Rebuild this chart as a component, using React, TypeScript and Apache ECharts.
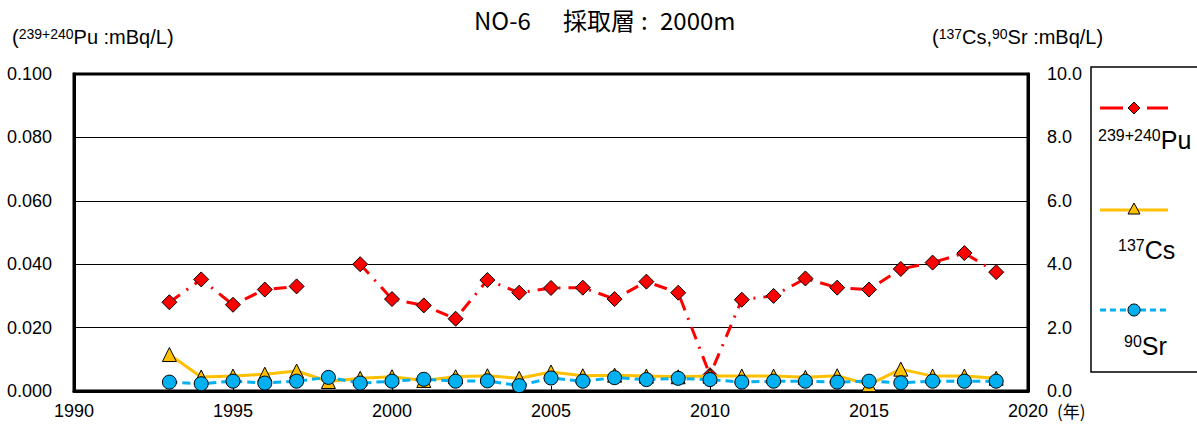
import React, { useEffect, useRef } from "react";
import * as echarts from "echarts";

const years = [1993,1994,1995,1996,1997,1998,1999,2000,2001,2002,2003,2004,2005,2006,2007,2008,2009,2010,2011,2012,2013,2014,2015,2016,2017,2018,2019];
const pu = [0.028,0.0352,0.0272,0.032,0.033,null,0.040,0.029,0.027,0.0228,0.035,0.031,0.0325,0.0326,0.029,0.0345,0.031,0.005,0.0288,0.030,0.0355,0.0326,0.032,0.0385,0.0405,0.0435,0.0375];
const cs = [1.15,0.44,0.47,0.53,0.63,0.3,0.4,0.45,0.33,0.45,0.48,0.4,0.6,0.48,0.5,0.47,0.45,0.47,0.47,0.47,0.43,0.48,0.2,0.69,0.47,0.47,0.4];
const sr = [0.28,0.23,0.31,0.25,0.31,0.43,0.25,0.31,0.37,0.31,0.32,0.17,0.41,0.31,0.42,0.36,0.4,0.36,0.28,0.31,0.31,0.28,0.31,0.26,0.31,0.31,0.31];
const xTicks = [1990, 2020, 5];
const leftTicks = [0, 0.1, 0.02];
const rightTicks = [0, 10, 2];

const FONT = "'Liberation Sans', Arial, sans-serif";
const JP = "'Noto Sans CJK JP'";

export default function App() {
  const ref = useRef<HTMLDivElement>(null);
  useEffect(() => {
    const chart = echarts.init(ref.current!, null, { renderer: "svg" });
    const pair = (arr: (number | null)[]) => years.map((y, i) => [y, arr[i]]);
    const unitRich = {
      s: { fontSize: 14, fontFamily: FONT, verticalAlign: "top" },
      n: { fontSize: 20, fontFamily: FONT, verticalAlign: "bottom" },
    };
    const legRich = {
      s: { fontSize: 16, fontFamily: FONT, verticalAlign: "top" },
      n: { fontSize: 25, fontFamily: FONT, verticalAlign: "bottom" },
    };
    chart.setOption({
      animation: false,
      backgroundColor: "#fff",
      grid: { left: 74, right: 169, top: 74, bottom: 36, show: true, borderColor: "#000", borderWidth: 3, backgroundColor: "transparent" },
      xAxis: {
        type: "value", min: xTicks[0], max: xTicks[1], interval: xTicks[2],
        axisLine: { show: true, lineStyle: { color: "#000", width: 3 } },
        axisTick: { show: true, inside: true, length: 5, lineStyle: { color: "#000", width: 1 } },
        axisLabel: { color: "#000", fontSize: 18, fontFamily: FONT, margin: 11, formatter: (v: number) => String(v) },
        splitLine: { show: false },
      },
      yAxis: [
        {
          type: "value", min: leftTicks[0], max: leftTicks[1], interval: leftTicks[2],
          axisLine: { show: true, lineStyle: { color: "#000", width: 3 } },
          axisTick: { show: false },
          axisLabel: { color: "#000", fontSize: 18, fontFamily: FONT, margin: 22, formatter: (v: number) => v.toFixed(3) },
          splitLine: { show: true, lineStyle: { color: "#000", width: 1 } },
        },
        {
          type: "value", min: rightTicks[0], max: rightTicks[1], interval: rightTicks[2], position: "right",
          axisLine: { show: true, lineStyle: { color: "#000", width: 3 } },
          axisTick: { show: false },
          axisLabel: { color: "#000", fontSize: 18, fontFamily: FONT, margin: 19, formatter: (v: number) => v.toFixed(1) },
          splitLine: { show: false },
        },
      ],
      series: [
        {
          type: "line", yAxisIndex: 0, data: pair(pu), connectNulls: false,
          lineStyle: { color: "#FF0000", width: 3, type: [13, 8, 2, 8] },
          symbol: "diamond", symbolSize: 15,
          itemStyle: { color: "#FF0000", borderColor: "#000", borderWidth: 1 },
          z: 3,
        },
        {
          type: "line", yAxisIndex: 1, data: pair(cs),
          lineStyle: { color: "#FFC000", width: 3 },
          symbol: "triangle", symbolSize: 14,
          itemStyle: { color: "#FFC000", borderColor: "#000", borderWidth: 1 },
          z: 4,
        },
        {
          type: "line", yAxisIndex: 1, data: pair(sr),
          lineStyle: { color: "#00B0F0", width: 3, type: [8, 5] },
          symbol: "circle", symbolSize: 14,
          itemStyle: { color: "#00B0F0", borderColor: "#000", borderWidth: 1 },
          z: 5,
        },
      ],
      graphic: [
        { type: "text", x: 474, y: 7, style: { text: "NO-6", font: `24px ${JP}`, fill: "#000" } },
        { type: "text", x: 563, y: 7, style: { text: "採取層", font: `24px ${JP}`, fill: "#000" } },
        { type: "text", x: 641, y: 7, style: { text: ":", font: `24px ${JP}`, fill: "#000" } },
        { type: "text", x: 660, y: 7, style: { text: "2000m", font: `24px ${JP}`, fill: "#000" } },
        { type: "text", x: 12, y: 27, style: { text: "({s|239+240}{n|Pu :mBq/L)}", fill: "#000", font: `20px ${FONT}`, rich: unitRich } },
        { type: "text", x: 932, y: 27, style: { text: "({s|137}{n|Cs,}{s|90}{n|Sr :mBq/L)}", fill: "#000", font: `20px ${FONT}`, rich: unitRich } },
        { type: "text", x: 1057, y: 402, style: { text: "(年)", font: `17px ${JP}`, fill: "#000" } },
        { type: "rect", shape: { x: 1091, y: 67, width: 130, height: 305 }, style: { fill: "none", stroke: "#000", lineWidth: 1.5 } },
        { type: "line", shape: { x1: 1100, y1: 108, x2: 1123, y2: 108 }, style: { stroke: "#FF0000", lineWidth: 3 } },
        { type: "line", shape: { x1: 1147, y1: 108, x2: 1168, y2: 108 }, style: { stroke: "#FF0000", lineWidth: 3 } },
        { type: "polygon", shape: { points: [[1134, 102], [1140, 108], [1134, 114], [1128, 108]] }, style: { fill: "#FF0000", stroke: "#000", lineWidth: 1 } },
        { type: "text", x: 1098, y: 127, style: { text: "{s|239+240}{n|Pu}", fill: "#000", rich: legRich } },
        { type: "line", shape: { x1: 1100, y1: 210, x2: 1168, y2: 210 }, style: { stroke: "#FFC000", lineWidth: 3 } },
        { type: "polygon", shape: { points: [[1134, 203], [1140, 214], [1128, 214]] }, style: { fill: "#FFC000", stroke: "#000", lineWidth: 1 } },
        { type: "text", x: 1118, y: 237, style: { text: "{s|137}{n|Cs}", fill: "#000", rich: legRich } },
        { type: "line", shape: { x1: 1100, y1: 310, x2: 1168, y2: 310 }, style: { stroke: "#00B0F0", lineWidth: 3, lineDash: [6, 4] } },
        { type: "circle", shape: { cx: 1134, cy: 310, r: 6 }, style: { fill: "#00B0F0", stroke: "#000", lineWidth: 1 } },
        { type: "text", x: 1124, y: 333, style: { text: "{s|90}{n|Sr}", fill: "#000", rich: legRich } },
      ],
    });
    return () => chart.dispose();
  }, []);
  return <div ref={ref} style={{ position: "fixed", left: 0, top: 0, width: 1197, height: 427 }} />;
}
